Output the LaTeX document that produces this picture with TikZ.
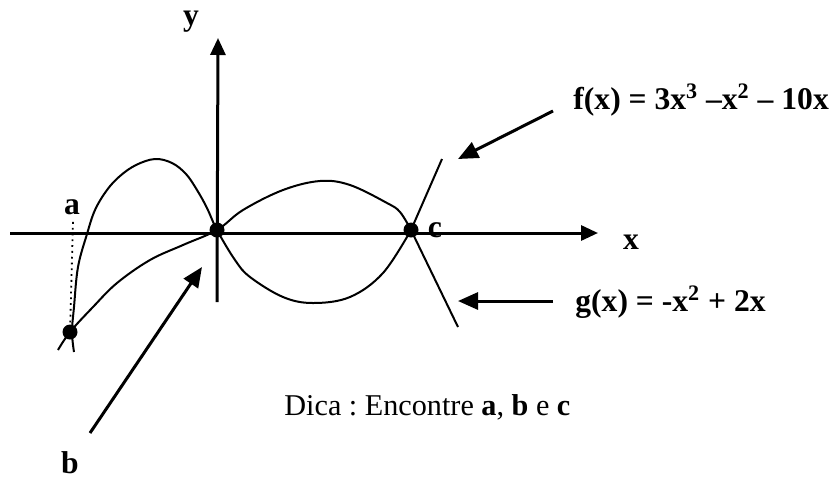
\documentclass[tikz,border=0pt]{standalone}
\usepackage{fontspec}
\setmainfont{Liberation Serif}
\usetikzlibrary{arrows.meta}

\begin{document}
\frenchspacing
\begin{tikzpicture}[
    x=0.5pt, y=-0.5pt, % pixel grid of the sketch, y downwards
    every node/.style={font=\fontsize{15.8}{19}\selectfont\bfseries, inner sep=0pt},
    axis/.style={line width=1.5pt, -{Triangle[length=8.5pt, width=7.5pt]}},
    curve/.style={line width=1pt},
    pointer/.style={line width=1.5pt, -{Triangle[length=10pt, width=8.5pt]}},
    dot/.style={circle, fill=black, minimum size=7.5pt}
]
    \useasboundingbox (0,0) rectangle (835,478);

    % --- 1. AXES ---
    \coordinate (xstart) at (10,233);
    \coordinate (xend) at (598,233);
    \coordinate (ystart) at (217,302);
    \coordinate (yend) at (218,38);
    \node (clabel) [anchor=base] at (435,237) {c};
    \draw[axis] (xstart) -- (xend);
    \draw[axis] (ystart) -- (yend);
    \node (xlabel) at (631,242) {x};
    \node (ylabel) at (191,22) {y};

    % --- 2. CURVES ---
    % f(x) = 3x^3 - x^2 - 10x
    \draw[curve] plot[smooth, tension=0.6] coordinates {
        (74,352) (72,332) (74,307) (78,267) (87,234) (95,210) (107,190)
        (120,176) (136,165) (155,159) (172,163) (186,174) (197,190) (207,208)
        (217,230) (235,260) (250,277) (283,297) (313,303) (350,297) (383,273)
        (411,230)}
        -- (442,159);
    % g(x) = -x^2 + 2x
    \draw[curve] plot[smooth, tension=0.6] coordinates {
        (58,350) (70,332) (93,307) (117,283) (150,260) (183,245) (217,230)
        (243,210) (283,190) (320,181) (350,185) (387,203) (400,212) (411,230)}
        -- (458,327);

    % --- 3. INTERSECTION POINTS ---
    \node[dot] (A) at (70,332) {};
    \node[dot] (B) at (217,230) {};
    \node[dot] (C) at (411,230) {};
    \node (alabel) at (72,207) {a};
    \draw[dotted, line width=0.9pt] (alabel.south -| A) ++(3,7) -- (A);

    % --- 4. POINTERS AND TEXTS ---
    \node (flabel) [anchor=base west] at (573,109) {f(x) = 3x\textsuperscript{3} \textendash x\textsuperscript{2} \textendash{} 10x};
    \node (glabel) [anchor=base west] at (575,311) {g(x) = -x\textsuperscript{2} + 2x};
    \node (blabel) at (70,463) {b};
    \node (hint) [anchor=base west, font=\fontsize{15.1}{18}\selectfont] at (284,415)
        {Dica : Encontre \textbf{a}, \textbf{b} e \textbf{c}};

    \coordinate (ftail) at (553,111);
    \coordinate (ftip) at (458,159);
    \coordinate (gtail) at (553,301);
    \coordinate (gtip) at (458,301);
    \coordinate (btail) at (90,433);
    \coordinate (btip) at (202,267);
    \draw[pointer] (ftail) -- (ftip);
    \draw[pointer] (gtail) -- (gtip);
    \draw[pointer] (btail) -- (btip);

\end{tikzpicture}
\end{document}
